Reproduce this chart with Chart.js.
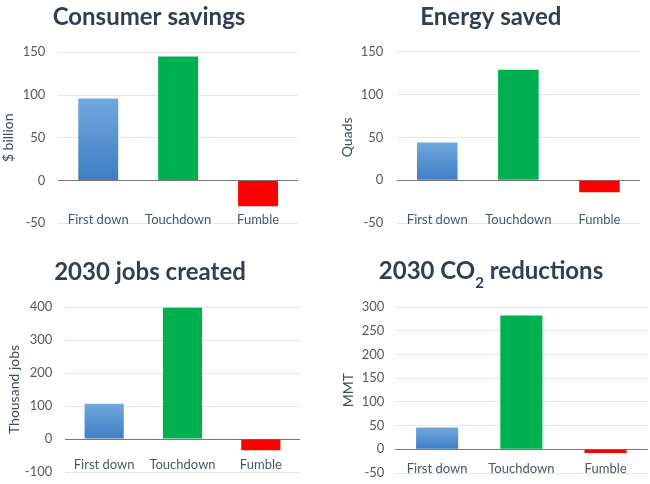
<!DOCTYPE html>
<html>
<head>
<meta charset="utf-8">
<script src="https://cdn.jsdelivr.net/npm/chart.js@4.4.0/dist/chart.umd.min.js"></script>
<style>
  body { margin: 0; background: #fff; }
  .cell { position: absolute; width: 325px; height: 242px; }
  canvas { display: block; }
</style>
</head>
<body>
<div class="cell" style="left:0;top:0"><canvas id="c1" width="325" height="242"></canvas></div>
<div class="cell" style="left:325px;top:0"><canvas id="c2" width="325" height="242"></canvas></div>
<div class="cell" style="left:0;top:242px"><canvas id="c3" width="325" height="242"></canvas></div>
<div class="cell" style="left:325px;top:242px"><canvas id="c4" width="325" height="242"></canvas></div>
<script>
// data
const categories = ['First down', 'Touchdown', 'Fumble'];
const savingsValues = [96, 145, -30];
const energyValues = [44, 129, -14];
const jobsValues = [107, 398, -34];
const co2Values = [46, 282, -8];

const savingsTicks = [-50, 0, 50, 100, 150];
const energyTicks = [-50, 0, 50, 100, 150];
const jobsTicks = [-100, 0, 100, 200, 300, 400];
const co2Ticks = [-50, 0, 50, 100, 150, 200, 250, 300];

const titleColor = '#333F50';

// title drawn by hand so the CO2 one can have a real subscript
const richTitle = {
  id: 'richTitle',
  afterDraw(chart, args, opts) {
    const ctx = chart.ctx;
    ctx.save();
    ctx.fillStyle = titleColor;
    ctx.textBaseline = 'alphabetic';
    let total = 0;
    opts.parts.forEach(p => {
      ctx.font = p.sub ? 'bold 15px Lato' : 'bold 24px Lato';
      p.w = ctx.measureText(p.text).width;
      total += p.w;
    });
    let x = opts.x - total / 2;
    opts.parts.forEach(p => {
      ctx.font = p.sub ? 'bold 15px Lato' : 'bold 24px Lato';
      ctx.fillText(p.text, x, opts.y + (p.sub ? 9 : 0));
      x += p.w;
    });
    ctx.restore();
  }
};

// category names sit on the bottom gridline, inside the plot (Excel "low" labels)
const catLabels = {
  id: 'catLabels',
  afterDraw(chart, args, opts) {
    const ctx = chart.ctx;
    const xs = chart.scales.x;
    ctx.save();
    ctx.font = '13px Lato';
    ctx.fillStyle = '#4A5868';
    ctx.textAlign = 'center';
    ctx.textBaseline = 'alphabetic';
    chart.data.labels.forEach((l, i) => {
      ctx.fillText(l, xs.getPixelForValue(i), chart.chartArea.bottom + opts.dy);
    });
    ctx.restore();
  }
};

function barColor(context) {
  const i = context.dataIndex;
  if (i === 1) return '#00B050';
  if (i === 2) return '#FF0000';
  const chart = context.chart;
  const y = chart.scales.y;
  if (!chart.chartArea || !y) return '#5B9BD5';
  const v = context.dataset.data[i];
  const g = chart.ctx.createLinearGradient(0, y.getPixelForValue(v), 0, y.getPixelForValue(0));
  g.addColorStop(0, '#72A8DF');
  g.addColorStop(1, '#3F7DC4');
  return g;
}

function makeChart(id, s) {
  new Chart(document.getElementById(id), {
    type: 'bar',
    data: {
      labels: categories,
      datasets: [{
        data: s.values,
        backgroundColor: barColor,
        categoryPercentage: 0.5,
        barPercentage: 1
      }]
    },
    plugins: [richTitle, catLabels],
    options: {
      responsive: false,
      animation: false,
      layout: { padding: s.pad },
      plugins: {
        legend: { display: false },
        tooltip: { enabled: false },
        title: { display: false },
        richTitle: { parts: s.title, x: s.titleX, y: s.titleY },
        catLabels: { dy: s.labelDy }
      },
      scales: {
        x: {
          grid: { display: false, drawTicks: false },
          border: { display: false },
          ticks: { display: false },
          afterFit: sc => { sc.height = 0; }
        },
        y: {
          min: s.ticks[0],
          max: s.ticks[s.ticks.length - 1],
          ticks: { stepSize: s.ticks[1] - s.ticks[0], color: '#595959', font: { size: 13 }, padding: s.yPad },
          grid: {
            drawTicks: false,
            color: c => c.tick.value === 0 ? '#767676' : '#E6E6E6'
          },
          border: { display: false },
          title: {
            display: true, text: s.yTitle, color: '#3F4C5C',
            font: { size: 14 }, padding: { top: s.yTitlePad, bottom: 0 }
          },
          afterFit: sc => {
            sc.width = s.yWidth;
            sc.paddingTop = 0;
            sc.paddingBottom = 0;
          }
        }
      }
    }
  });
}

function drawAll() {
  Chart.defaults.font.family = 'Lato';
  makeChart('c1', {
    values: savingsValues, ticks: savingsTicks, yTitle: '$ billion',
    title: [{ text: 'Consumer savings' }], titleX: 149, titleY: 25,
    pad: { left: 0, right: 27, top: 52.3, bottom: 18.7 },
    yWidth: 58.3, yPad: 13, yTitlePad: 0.4, labelDy: 0.7
  });
  makeChart('c2', {
    values: energyValues, ticks: energyTicks, yTitle: 'Quads',
    title: [{ text: 'Energy saved' }], titleX: 165.8, titleY: 25,
    pad: { left: 0, right: 10, top: 51.7, bottom: 19 },
    yWidth: 71.7, yPad: 13.4, yTitlePad: 14, labelDy: 1
  });
  makeChart('c3', {
    values: jobsValues, ticks: jobsTicks, yTitle: 'Thousand jobs',
    title: [{ text: '2030 jobs created' }], titleX: 150, titleY: 37.5,
    pad: { left: 0, right: 25, top: 65, bottom: 12 },
    yWidth: 65, yPad: 12.7, yTitlePad: 5.6, labelDy: -2.7
  });
  makeChart('c4', {
    values: co2Values, ticks: co2Ticks, yTitle: 'MMT',
    title: [{ text: '2030 CO' }, { text: '2', sub: true }, { text: ' reductions' }], titleX: 166, titleY: 36.5,
    pad: { left: 0, right: 2.3, top: 65, bottom: 11 },
    yWidth: 70, yPad: 10.7, yTitlePad: 15, labelDy: -0.3
  });
}

Promise.all([
  document.fonts.load('13px Lato'),
  document.fonts.load('bold 24px Lato')
]).then(drawAll, drawAll);
</script>
</body>
</html>
